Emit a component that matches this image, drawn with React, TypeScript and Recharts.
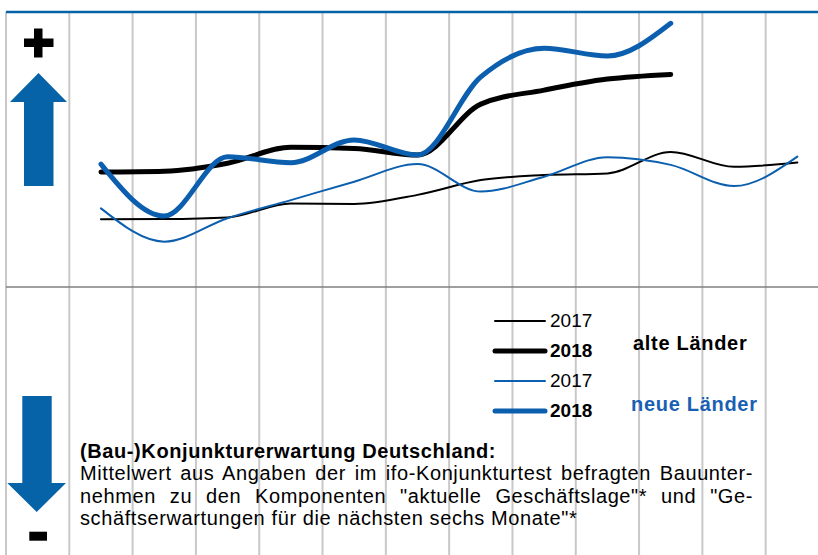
import { LineChart, Line, XAxis, YAxis, CartesianGrid, ReferenceLine, Legend } from "recharts";

const months = ["Jan", "Feb", "Mär", "Apr", "Mai", "Jun", "Jul", "Aug", "Sep", "Okt", "Nov", "Dez"];
const alte2017 = [24.6, 24.7, 25.3, 30.4, 30.2, 33.5, 38.9, 40.7, 41.3, 49.1, 43.7, 45.3];
const alte2018 = [41.8, 42.1, 45.0, 50.8, 50.4, 48.0, 66.5, 71.6, 75.6, 77.3];
const neue2017 = [28.6, 16.5, 25.0, 31.6, 38.3, 44.7, 34.7, 40.1, 47.2, 44.4, 36.7, 47.4];
const neue2018 = [44.7, 25.8, 47.4, 45.2, 53.5, 48.0, 76.4, 86.8, 84.0, 95.9];

const BLUE = "#0b5fae";
const ARROW = "#0763a7";

const series = [
  { key: "a17", year: "2017", color: "#000000", width: 2, bold: false },
  { key: "n17", year: "2017", color: BLUE, width: 2, bold: false },
  { key: "a18", year: "2018", color: "#000000", width: 5, bold: true },
  { key: "n18", year: "2018", color: BLUE, width: 5, bold: true },
];
const legendOrder = ["a17", "a18", "n17", "n18"];

const data = months.map((m, i) => ({
  x: i + 1,
  month: m,
  a17: alte2017[i] ?? null,
  a18: alte2018[i] ?? null,
  n17: neue2017[i] ?? null,
  n18: neue2018[i] ?? null,
}));

const gridTicks = months.map((_, i) => i + 0.5);

const font = "'Liberation Sans', Arial, sans-serif";

function LegendBox() {
  return (
    <div style={{ position: "relative", width: 290, height: 120, fontFamily: font, fontSize: 19 }}>
      {legendOrder.map((k, i) => {
        const s = series.find((d) => d.key === k)!;
        return (
          <div key={k} style={{ position: "absolute", left: 0, top: i * 30, height: 24, display: "flex", alignItems: "center" }}>
            <svg width={56} height={24}>
              <line x1={3} y1={12} x2={53} y2={12} stroke={s.color} strokeWidth={s.width} strokeLinecap="round" />
            </svg>
            <span style={{ marginLeft: 2, fontWeight: s.bold ? "bold" : "normal", color: "#000" }}>{s.year}</span>
          </div>
        );
      })}
      <div style={{ position: "absolute", left: 141, top: 23, fontSize: 20, letterSpacing: 0.7, fontWeight: "bold", color: "#000" }}>
        alte Länder
      </div>
      <div style={{ position: "absolute", left: 139, top: 84, fontSize: 20, letterSpacing: 0.7, fontWeight: "bold", color: "#1a5fb4" }}>
        neue Länder
      </div>
    </div>
  );
}

const lineStyle = { textAlign: "justify" as const, textAlignLast: "justify" as const, whiteSpace: "nowrap" as const };

export default function App() {
  return (
    <div style={{ position: "fixed", left: 0, top: 0, width: 818, height: 555, overflow: "hidden", background: "#fff" }}>
      <LineChart width={830} height={562} data={data} margin={{ top: 12, left: 6, right: 1, bottom: 0 }}>
        <CartesianGrid horizontal={false} stroke="#c8c8c8" strokeWidth={2} />
        <XAxis dataKey="x" type="number" domain={[-0.5, 12.5]} ticks={gridTicks} hide />
        <YAxis
          type="number"
          domain={[-100, 100]}
          width={0}
          tick={false}
          tickLine={false}
          axisLine={{ stroke: ARROW, strokeWidth: 2.5 }}
        />
        <ReferenceLine y={0} stroke="#7f7f7f" strokeWidth={1.5} />
        <ReferenceLine y={100} stroke={ARROW} strokeWidth={2.5} />
        {series.map((s) => (
          <Line
            key={s.key}
            dataKey={s.key}
            type="monotone"
            stroke={s.color}
            strokeWidth={s.width}
            strokeLinecap="round"
            dot={false}
            activeDot={false}
            isAnimationActive={false}
            connectNulls={false}
          />
        ))}
        <Legend
          layout="horizontal"
          verticalAlign="middle"
          align="center"
          wrapperStyle={{ left: 492, top: 309, width: 290, height: 120 }}
          content={() => <LegendBox />}
        />
      </LineChart>

      <svg width={818} height={555} style={{ position: "absolute", left: 0, top: 0, pointerEvents: "none" }}>
        <rect x={24} y={38.5} width={29.5} height={8.5} fill="#000" />
        <rect x={34} y={28.5} width={8.5} height={29} fill="#000" />
        <polygon points="38.5,73 67,102 53.5,102 53.5,186 24,186 24,102 10,102" fill={ARROW} />
        <polygon points="22.3,396 51.7,396 51.7,483 66,483 36.7,512 7.3,483 22.3,483" fill={ARROW} />
        <rect x={29.3} y={531.7} width={17.7} height={9} fill="#000" />
      </svg>

      <div
        style={{
          position: "absolute",
          left: 80,
          top: 440,
          width: 673,
          fontFamily: font,
          fontSize: 20,
          letterSpacing: 0.6,
          lineHeight: "22.4px",
          color: "#000",
        }}
      >
        <div style={{ fontWeight: "bold" }}>(Bau-)Konjunkturerwartung Deutschland:</div>
        <div style={lineStyle}>Mittelwert aus Angaben der im ifo-Konjunkturtest befragten Bauunter-</div>
        <div style={lineStyle}>nehmen zu den Komponenten "aktuelle Geschäftslage"* und "Ge-</div>
        <div>schäftserwartungen für die nächsten sechs Monate"*</div>
      </div>
    </div>
  );
}
